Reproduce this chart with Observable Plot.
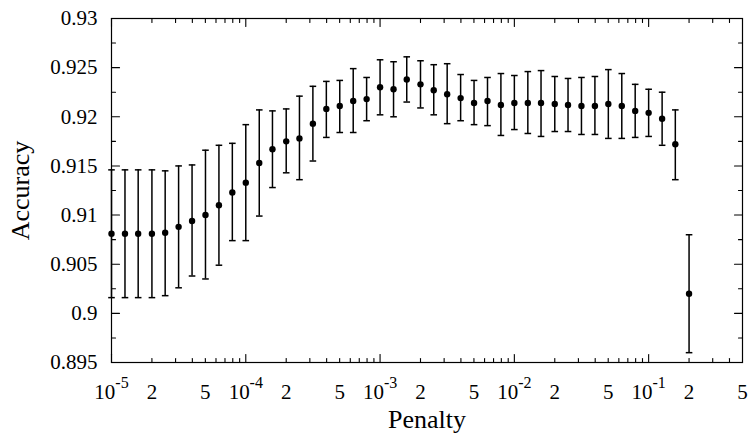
<!DOCTYPE html>
<html>
<head>
<meta charset="utf-8">
<script src="https://cdn.jsdelivr.net/npm/d3@7"></script>
<script src="https://cdn.jsdelivr.net/npm/@observablehq/plot@0.6"></script>
<style>
  html, body { margin: 0; padding: 0; background: #fff; }
</style>
</head>
<body>
<div id="chart"></div>
<script>
// Regularisation penalty grid (ten steps per decade)
const penalty = [
  1e-5, 1.26e-5, 1.58e-5, 2e-5, 2.51e-5, 3.16e-5, 3.98e-5, 5.01e-5, 6.31e-5, 7.94e-5,
  1e-4, 1.26e-4, 1.58e-4, 2e-4, 2.51e-4, 3.16e-4, 3.98e-4, 5.01e-4, 6.31e-4, 7.94e-4,
  1e-3, 1.26e-3, 1.58e-3, 2e-3, 2.51e-3, 3.16e-3, 3.98e-3, 5.01e-3, 6.31e-3, 7.94e-3,
  1e-2, 1.26e-2, 1.58e-2, 2e-2, 2.51e-2, 3.16e-2, 3.98e-2, 5.01e-2, 6.31e-2, 7.94e-2,
  1e-1, 1.26e-1, 1.58e-1, 2e-1
];

// Mean cross-validated accuracy at each penalty
const accuracy = [
  0.9081, 0.9081, 0.9081, 0.9081, 0.9082, 0.9088, 0.9094, 0.9100, 0.9110, 0.9123,
  0.9133, 0.9153, 0.9167, 0.9175, 0.9178, 0.9193, 0.9208, 0.9211, 0.9216, 0.9218,
  0.9230, 0.9228, 0.9238, 0.9233, 0.9227, 0.9223, 0.9219, 0.9214, 0.9216, 0.9212,
  0.9214, 0.9214, 0.9214, 0.9213, 0.9212, 0.9211, 0.9211, 0.9213, 0.9211, 0.9206,
  0.9204, 0.9198, 0.9172, 0.9020
];

// Lower and upper ends of the error bars
const accuracyLow = [
  0.9016, 0.9016, 0.9016, 0.9016, 0.9018, 0.9026, 0.9038, 0.9035, 0.9049, 0.9074,
  0.9074, 0.9099, 0.9128, 0.9143, 0.9136, 0.9155, 0.9179, 0.9184, 0.9184, 0.9196,
  0.9202, 0.9200, 0.9215, 0.9209, 0.9202, 0.9193, 0.9196, 0.9192, 0.9191, 0.9181,
  0.9187, 0.9183, 0.9180, 0.9185, 0.9185, 0.9182, 0.9182, 0.9178, 0.9178, 0.9179,
  0.9180, 0.9171, 0.9136, 0.8960
];
const accuracyHigh = [
  0.9146, 0.9146, 0.9146, 0.9146, 0.9145, 0.9150, 0.9151, 0.9166, 0.9171, 0.9173,
  0.9192, 0.9207, 0.9206, 0.9208, 0.9221, 0.9231, 0.9236, 0.9237, 0.9249, 0.9240,
  0.9258, 0.9256, 0.9261, 0.9257, 0.9253, 0.9254, 0.9243, 0.9237, 0.9240, 0.9244,
  0.9242, 0.9246, 0.9247, 0.9241, 0.9239, 0.9240, 0.9241, 0.9248, 0.9244, 0.9233,
  0.9228, 0.9225, 0.9207, 0.9080
];

// Axis ticks and labels
const xMajorTicks = [1e-5, 1e-4, 1e-3, 1e-2, 1e-1];
const xMinorTicks = [
  2e-5, 3e-5, 4e-5, 5e-5, 6e-5, 7e-5, 8e-5, 9e-5,
  2e-4, 3e-4, 4e-4, 5e-4, 6e-4, 7e-4, 8e-4, 9e-4,
  2e-3, 3e-3, 4e-3, 5e-3, 6e-3, 7e-3, 8e-3, 9e-3,
  2e-2, 3e-2, 4e-2, 5e-2, 6e-2, 7e-2, 8e-2, 9e-2,
  0.2, 0.3, 0.4
];
const xLabelTicks = [1e-5, 2e-5, 5e-5, 1e-4, 2e-4, 5e-4, 1e-3, 2e-3, 5e-3, 1e-2, 2e-2, 5e-2, 1e-1, 2e-1, 5e-1];
const xTickLabels = ["10^-5", "2", "5", "10^-4", "2", "5", "10^-3", "2", "5", "10^-2", "2", "5", "10^-1", "2", "5"];
const yMajorTicks = [0.895, 0.9, 0.905, 0.91, 0.915, 0.92, 0.925, 0.93];
const yTickLabels = ["0.895", "0.9", "0.905", "0.91", "0.915", "0.92", "0.925", "0.93"];
const yMinorTicks = [0.8975, 0.9025, 0.9075, 0.9125, 0.9175, 0.9225, 0.9275];

const rows = penalty.map((p, i) => ({
  penalty: p, acc: accuracy[i], lo: accuracyLow[i], hi: accuracyHigh[i]
}));

// Short horizontal bar used for the error-bar caps
const capSymbol = {
  draw(ctx, size) {
    const w = Math.sqrt(size / Math.PI);
    ctx.moveTo(-w, 0);
    ctx.lineTo(w, 0);
  }
};

// Straight tick line of length l, pointing along the vector direction
const tickLine = {
  draw(ctx, l) {
    ctx.moveTo(0, 0);
    ctx.lineTo(0, -l);
  }
};

const tick = {shape: tickLine, anchor: "start", stroke: "black", strokeWidth: 1.1};

// Inward ticks: bottom (up), top (down), left (right), right (left)
function xTicks(values, length) {
  return [
    Plot.vectorX(values, {x: (d) => d, frameAnchor: "bottom", rotate: 0, length, ...tick}),
    Plot.vectorX(values, {x: (d) => d, frameAnchor: "top", rotate: 180, length, ...tick})
  ];
}
function yTicks(values, length) {
  return [
    Plot.vectorY(values, {y: (d) => d, frameAnchor: "left", rotate: 90, length, ...tick}),
    Plot.vectorY(values, {y: (d) => d, frameAnchor: "right", rotate: -90, length, ...tick})
  ];
}

const chart = Plot.plot({
  width: 752,
  height: 436,
  marginLeft: 111,
  marginRight: 10,
  marginTop: 18,
  marginBottom: 74,
  style: {fontFamily: "'Liberation Serif', 'Times New Roman', serif", fontSize: "21px", background: "white", color: "black"},
  x: {type: "log", domain: [1e-5, 0.5], axis: null},
  y: {domain: [0.895, 0.93], axis: null},
  marks: [
    // error bars
    Plot.ruleX(rows, {x: "penalty", y1: "lo", y2: "hi", stroke: "black", strokeWidth: 1.5}),
    Plot.dot(rows, {x: "penalty", y: "lo", r: 3.3, symbol: capSymbol, stroke: "black", strokeWidth: 1.5, fill: "none"}),
    Plot.dot(rows, {x: "penalty", y: "hi", r: 3.3, symbol: capSymbol, stroke: "black", strokeWidth: 1.5, fill: "none"}),
    // mean accuracy
    Plot.dot(rows, {x: "penalty", y: "acc", r: 3.2, fill: "black", stroke: "none"}),

    ...xTicks(xMajorTicks, 8),
    ...xTicks(xMinorTicks, 4),
    ...yTicks(yMajorTicks, 8),
    ...yTicks(yMinorTicks, 4),

    // tick labels
    Plot.text(xLabelTicks, {x: (d) => d, text: (d, i) => xTickLabels[i], frameAnchor: "bottom",
      lineAnchor: "top", textAnchor: "middle", dy: 22, fontSize: 21, fill: "black"}),
    Plot.text(yMajorTicks, {y: (d) => d, text: (d, i) => yTickLabels[i], frameAnchor: "left",
      lineAnchor: "middle", textAnchor: "end", dx: -14, fontSize: 21, fill: "black"}),

    // axis titles
    Plot.text(["Penalty"], {frameAnchor: "bottom", lineAnchor: "middle", textAnchor: "middle",
      dy: 57, fontSize: 26, text: (d) => d, fill: "black"}),
    Plot.text(["Accuracy"], {frameAnchor: "left", lineAnchor: "middle", textAnchor: "middle",
      rotate: -90, dx: -91, fontSize: 26, text: (d) => d, fill: "black"}),

    Plot.frame({stroke: "black", strokeWidth: 1.2})
  ]
});

// Render "10^-n" labels with a raised exponent
d3.select(chart).selectAll("text").each(function () {
  const s = this.textContent;
  const k = s.indexOf("^");
  if (k < 0) return;
  this.textContent = s.slice(0, k);
  d3.select(this).append("tspan").attr("dy", -11).attr("font-size", 16).text(s.slice(k + 1));
});

document.getElementById("chart").appendChild(chart);
</script>
</body>
</html>
